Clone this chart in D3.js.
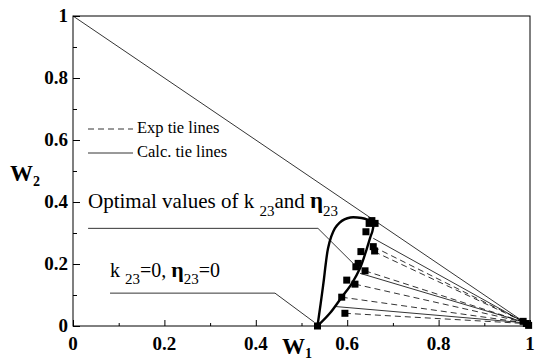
<!DOCTYPE html>
<html>
<head>
<meta charset="utf-8">
<script src="https://cdn.jsdelivr.net/npm/d3@7"></script>
<style>
  body { margin: 0; background: #fff; }
  svg text { font-family: 'Liberation Serif', 'DejaVu Serif', 'Times New Roman', serif; fill: #000; }
</style>
</head>
<body>
<svg id="chart"></svg>
<script>
'use strict'

const chartWidth = 535,
      chartHeight = 360

// plot box:
const plotLeft = 73, plotRight = 530, plotTop = 16, plotBottom = 326
const serif = "'Liberation Serif', 'DejaVu Serif', serif"

// binodal curve (calculated), walked from the plait point up the left branch and back down:
const binodalW1 = [0.535, 0.540, 0.545, 0.549, 0.553, 0.558, 0.565, 0.573, 0.583, 0.594, 0.607, 0.622, 0.639, 0.652, 0.657, 0.655, 0.651, 0.642, 0.628, 0.610, 0.588, 0.562, 0.535]
const binodalW2 = [0.000, 0.052, 0.105, 0.150, 0.200, 0.250, 0.288, 0.315, 0.333, 0.344, 0.350, 0.350, 0.346, 0.338, 0.325, 0.305, 0.288, 0.245, 0.186, 0.137, 0.093, 0.041, 0.000]

// experimental points:
const expW1 = [0.535, 0.595, 0.588, 0.599, 0.617, 0.619, 0.624, 0.639, 0.630, 0.641, 0.648, 0.661, 0.654, 0.657, 0.660, 0.985, 0.992, 0.997]
const expW2 = [0.000, 0.041, 0.093, 0.148, 0.135, 0.191, 0.202, 0.178, 0.240, 0.304, 0.331, 0.331, 0.340, 0.256, 0.242, 0.015, 0.008, 0.002]

// tie lines, start (W1, W2) -> end (W1, W2):
const expTieStart = [[0.657, 0.256], [0.659, 0.240], [0.639, 0.178], [0.617, 0.135], [0.588, 0.093], [0.595, 0.041]]
const expTieEnd = [[0.985, 0.015], [0.985, 0.015], [0.988, 0.012], [0.988, 0.012], [0.990, 0.010], [0.990, 0.008]]
const calcTieStart = [[0.657, 0.283], [0.628, 0.170], [0.573, 0.063]]
const calcTieEnd = [[0.985, 0.014], [0.988, 0.012], [0.990, 0.010]]

// leader lines from the two labels down to the curves:
const optimalLeader = [[0.033, 0.315], [0.536, 0.315], [0.613, 0.202]]
const zeroLeader = [[0.081, 0.106], [0.442, 0.106], [0.528, 0.012]]

const majorTicks = [0, 0.2, 0.4, 0.6, 0.8, 1]
const minorTicks = [0.1, 0.3, 0.5, 0.7, 0.9]
const tickLabels = ["0", "0.2", "0.4", "0.6", "0.8", "1"]

const svg = d3.select("#chart")
  .attr("width", chartWidth)
  .attr("height", chartHeight)
  .attr("font-family", serif)

const x = d3.scaleLinear().domain([0, 1]).range([plotLeft, plotRight])
const y = d3.scaleLinear().domain([0, 1]).range([plotBottom, plotTop])

const line = d3.line().x(d => x(d[0])).y(d => y(d[1]))

// frame:
svg.append("rect")
  .attr("x", plotLeft).attr("y", plotTop)
  .attr("width", plotRight - plotLeft).attr("height", plotBottom - plotTop)
  .attr("fill", "none").attr("stroke", "#000").attr("stroke-width", 1)

// inward ticks, bottom and left:
const xAxis = svg.append("g").attr("transform", `translate(0,${plotBottom})`)
xAxis.call(d3.axisBottom(x).tickValues(majorTicks).tickSizeInner(-6).tickSizeOuter(0).tickFormat(""))
xAxis.append("g").call(d3.axisBottom(x).tickValues(minorTicks).tickSizeInner(-3).tickSizeOuter(0).tickFormat(""))
xAxis.selectAll(".domain").remove()

const yAxis = svg.append("g").attr("transform", `translate(${plotLeft},0)`)
yAxis.call(d3.axisLeft(y).tickValues(majorTicks).tickSizeInner(-7).tickSizeOuter(0).tickFormat(""))
yAxis.append("g").call(d3.axisLeft(y).tickValues(minorTicks).tickSizeInner(-4).tickSizeOuter(0).tickFormat(""))
yAxis.selectAll(".domain").remove()

// tick labels:
svg.append("g").selectAll("text")
  .data(majorTicks)
  .enter().append("text")
    .attr("x", d => x(d))
    .attr("y", 350)
    .attr("text-anchor", "middle")
    .attr("font-family", serif)
    .attr("font-size", 19)
    .attr("font-weight", "bold")
    .text((d, i) => tickLabels[i])

svg.append("g").selectAll("text")
  .data(majorTicks)
  .enter().append("text")
    .attr("x", plotLeft - 5)
    .attr("y", d => y(d) + 6)
    .attr("text-anchor", "end")
    .attr("font-family", serif)
    .attr("font-size", 19)
    .attr("font-weight", "bold")
    .text((d, i) => tickLabels[i])

// axis titles:
const w1 = svg.append("text").attr("x", 282).attr("y", 354).attr("font-family", serif).attr("font-size", 23).attr("font-weight", "bold")
w1.append("tspan").text("W")
w1.append("tspan").attr("font-size", 14).attr("dy", 4).text("1")

const w2 = svg.append("text").attr("x", 10).attr("y", 181).attr("font-family", serif).attr("font-size", 23).attr("font-weight", "bold")
w2.append("tspan").text("W")
w2.append("tspan").attr("font-size", 14).attr("dy", 5).text("2")

// diagonal W1 + W2 = 1:
svg.append("path")
  .attr("d", line([[0, 1], [1, 0]]))
  .attr("fill", "none").attr("stroke", "#000").attr("stroke-width", 0.8)

// tie lines:
svg.append("g").selectAll("path")
  .data(expTieStart)
  .enter().append("path")
    .attr("d", (d, i) => line([d, expTieEnd[i]]))
    .attr("fill", "none").attr("stroke", "#000").attr("stroke-width", 0.8)
    .attr("stroke-dasharray", "6,4")

svg.append("g").selectAll("path")
  .data(calcTieStart)
  .enter().append("path")
    .attr("d", (d, i) => line([d, calcTieEnd[i]]))
    .attr("fill", "none").attr("stroke", "#000").attr("stroke-width", 0.8)

// leader lines:
svg.append("g").selectAll("path")
  .data([optimalLeader, zeroLeader])
  .enter().append("path")
    .attr("d", d => line(d))
    .attr("fill", "none").attr("stroke", "#000").attr("stroke-width", 0.8)

// binodal curve:
svg.append("path")
  .attr("d", d3.line().x(d => x(d[0])).y(d => y(d[1])).curve(d3.curveCatmullRom)(binodalW1.map((v, i) => [v, binodalW2[i]])))
  .attr("fill", "none").attr("stroke", "#000").attr("stroke-width", 2.4)

// experimental points (filled squares):
const sq = 7
svg.append("g").selectAll("rect")
  .data(expW1)
  .enter().append("rect")
    .attr("x", d => x(d) - sq / 2)
    .attr("y", (d, i) => y(expW2[i]) - sq / 2)
    .attr("width", sq).attr("height", sq)
    .attr("fill", "#000")

// legend:
const legend = svg.append("g")
legend.append("line").attr("x1", 88).attr("x2", 133).attr("y1", 129).attr("y2", 129)
  .attr("stroke", "#000").attr("stroke-width", 0.8).attr("stroke-dasharray", "6,4")
legend.append("text").attr("x", 137).attr("y", 133).attr("font-family", serif).attr("font-size", 16.5).text("Exp tie lines")
legend.append("line").attr("x1", 88).attr("x2", 133).attr("y1", 153).attr("y2", 153)
  .attr("stroke", "#000").attr("stroke-width", 0.8)
legend.append("text").attr("x", 137).attr("y", 157).attr("font-family", serif).attr("font-size", 16.5).text("Calc. tie lines")

// annotations:
const opt = svg.append("text").attr("x", 88).attr("y", 208).attr("font-family", serif).attr("font-size", 21)
opt.append("tspan").text("Optimal values of k ")
opt.append("tspan").attr("font-size", 15).attr("dy", 8).text("23")
opt.append("tspan").attr("dy", -8).text("and ")
opt.append("tspan").attr("font-weight", "bold").attr("font-size", 23).text("η")
opt.append("tspan").attr("font-size", 15).attr("dy", 8).text("23")

const zero = svg.append("text").attr("x", 110).attr("y", 277).attr("font-family", serif).attr("font-size", 20)
zero.append("tspan").text("k ")
zero.append("tspan").attr("font-size", 15).attr("dy", 7).text("23")
zero.append("tspan").attr("dy", -7).text("=0, ")
zero.append("tspan").attr("font-weight", "bold").attr("font-size", 22).text("η")
zero.append("tspan").attr("font-size", 15).attr("dy", 7).text("23")
zero.append("tspan").attr("dy", -7).text("=0")
</script>
</body>
</html>
